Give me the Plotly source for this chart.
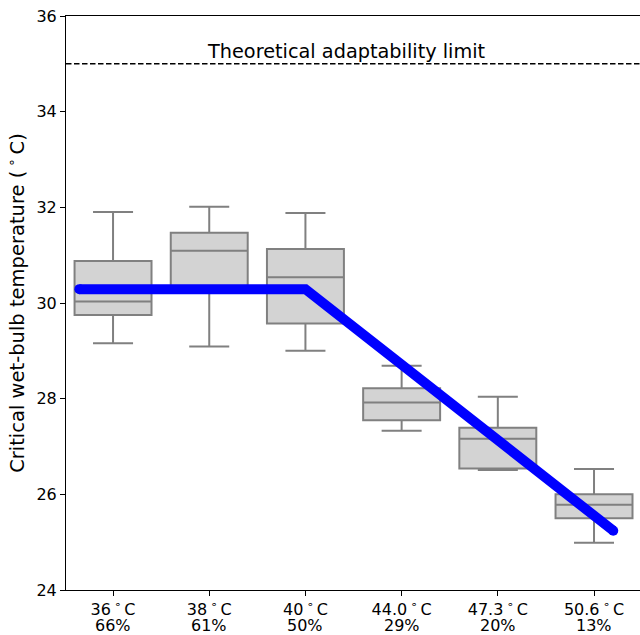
import plotly.graph_objects as go

temps = ["36", "38", "40", "44.0", "47.3", "50.6"]
humid = ["66%", "61%", "50%", "29%", "20%", "13%"]
positions = [0, 1, 2, 3, 4, 5]
lower = [29.16, 29.09, 29.00, 27.33, 26.51, 24.99]
q1 = [29.75, 30.30, 29.57, 27.55, 26.54, 25.50]
median = [30.03, 31.09, 30.54, 27.92, 27.16, 25.78]
q3 = [30.88, 31.47, 31.13, 28.22, 27.39, 26.00]
upper = [31.90, 32.01, 31.88, 28.69, 28.04, 26.53]

line_x = [-0.35, 2.0, 5.2]
line_y = [30.29, 30.29, 25.24]
limit_value = 35
limit_label = "Theoretical adaptability limit"

deg = "\u2009<sup>∘</sup>\u2009C"
ticktext = [f"{t}{deg}" for t in temps]

fig = go.Figure()
fig.add_trace(go.Box(
    x=positions, q1=q1, median=median, q3=q3,
    lowerfence=lower, upperfence=upper,
    width=0.8, whiskerwidth=0.52,
    fillcolor="#d3d3d3", line=dict(color="#808080", width=2),
    boxpoints=False, showlegend=False, hoverinfo="skip",
))
fig.add_trace(go.Scatter(
    x=line_x, y=line_y, mode="lines",
    line=dict(color="#0000ff", width=10),
    showlegend=False,
))
fig.add_trace(go.Scatter(
    x=[line_x[0], line_x[-1]], y=[line_y[0], line_y[-1]], mode="markers",
    marker=dict(color="#0000ff", size=10, line=dict(width=0)),
    showlegend=False,
))

fig.add_shape(type="line", xref="paper", x0=0, x1=1, yref="y", y0=limit_value, y1=limit_value,
              line=dict(color="black", width=1.5, dash="5.5px,2.5px"))
fig.add_annotation(x=2.43, y=limit_value, yanchor="bottom", yshift=-1, text=limit_label,
                   showarrow=False, font=dict(size=19.3, color="black"))
for p, h in zip(positions, humid):
    fig.add_annotation(x=p, xref="x", y=0, yref="paper", yanchor="middle", yshift=-35,
                       text=h, showarrow=False, font=dict(size=16, color="black"))

fig.update_layout(
    width=640, height=635,
    margin=dict(l=66, r=0, t=16, b=45),
    plot_bgcolor="white", paper_bgcolor="white",
    font=dict(family="DejaVu Sans", color="black", size=16),
)
fig.update_xaxes(
    range=[-0.489, 5.478], tickvals=positions, ticktext=ticktext,
    showline=True, linecolor="black", linewidth=1, mirror=True,
    ticks="outside", ticklen=5, tickcolor="black", showgrid=False, zeroline=False,
    tickfont=dict(size=16), automargin=False,
)
fig.update_yaxes(
    range=[24, 36], tickvals=[24, 26, 28, 30, 32, 34, 36],
    showline=True, linecolor="black", linewidth=1,
    ticks="outside", ticklen=5, tickcolor="black", showgrid=False, zeroline=False,
    tickfont=dict(size=16), automargin=False,
    title=dict(text="Critical wet-bulb temperature (\u2009<sup>∘</sup>\u2009C)", font=dict(size=19.5), standoff=6),
)

fig.write_html("out.html", config={"displayModeBar": False})
with open("out.html", "r", encoding="utf-8") as f:
    html = f.read()
html = html.replace("<body>", "<body style=\"margin:0;padding:0;overflow:hidden\">", 1)
with open("out.html", "w", encoding="utf-8") as f:
    f.write(html)
